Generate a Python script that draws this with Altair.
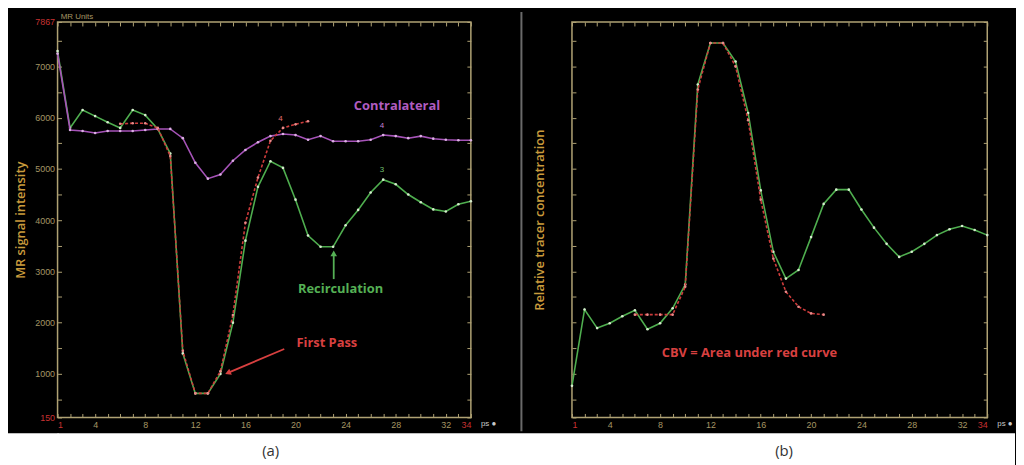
import altair as alt
import pandas as pd

# ---------------- data ----------------
t = list(range(1, 35))

a_green = [7300, 5800, 6150, 6030, 5910, 5800, 6150, 6050, 5780, 5300,
           1400, 620, 620, 1000, 2000, 3600, 4650, 5150, 5020, 4400,
           3700, 3480, 3480, 3900, 4200, 4540, 4790, 4700, 4500, 4350,
           4210, 4170, 4310, 4370]
a_purple = [7250, 5760, 5740, 5700, 5740, 5740, 5740, 5760, 5780, 5780,
            5600, 5120, 4810, 4890, 5160, 5370, 5520, 5640, 5680, 5660,
            5570, 5640, 5540, 5540, 5540, 5570, 5660, 5640, 5600, 5640,
            5590, 5570, 5560, 5560]
a_red_t = list(range(6, 22))
a_red = [5880, 5890, 5890, 5800, 5250, 1450, 620, 620, 1050, 2150,
         3950, 4830, 5550, 5800, 5870, 5930]

b_green = [767, 2257, 1894, 1987, 2126, 2241, 1871, 1987, 2280, 2743,
           6648, 7458, 7458, 7095, 6092, 4580, 3383, 2859, 3028, 3669,
           4317, 4595, 4595, 4209, 3854, 3538, 3283, 3383, 3538, 3708,
           3823, 3885, 3808, 3708]
b_red_t = list(range(6, 22))
b_red = [2156, 2156, 2156, 2156, 2700, 6550, 7458, 7458, 7000, 5950,
         4400, 3250, 2604, 2311, 2180, 2156]

Y_DOMAIN = [150, 7867]
X_DOMAIN = [1, 34]
x_ticks = list(range(1, 35))
x_label_vals = [1, 4, 8, 12, 16, 20, 24, 28, 32, 34]
y_ticks = [150] + list(range(500, 8000, 500)) + [7867]
y_label_vals = [150, 1000, 2000, 3000, 4000, 5000, 6000, 7000, 7867]

# annotations (panel a)
a_notes_txt = ["Contralateral", "Recirculation", "First Pass"]
a_notes_t = [28.1, 23.6, 22.5]
a_notes_v = [6223, 2664, 1600]
a_notes_col = ["#b05cc0", "#55b055", "#d84040"]

# small curve markers
a_mark_txt = ["4", "4", "3"]
a_mark_t = [18.8, 26.9, 26.9]
a_mark_v = [5900, 5760, 4900]
a_mark_col = ["#e07070", "#c080d0", "#70c070"]

# arrows: (t, v) -> (t2, v2), head at (t2, v2)
arrow_t = [23.05, 19.1]
arrow_v = [2850, 1485]
arrow_t2 = [23.05, 14.6]
arrow_v2 = [3350, 1020]
arrow_col = ["#55b055", "#d84040"]
arrow_angle = [0, 247]

# panel b annotation
b_note_txt = ["CBV = Area under red curve"]
b_note_t = [15.1]
b_note_v = [1407]

captions = ["(a)", "(b)"]
caption_x = [215, 733]

# ---------------- style ----------------
FRAME = "#b0a274"
LABEL = "#a59665"
RED_LBL = "#c83232"
TITLE = "#c99b3c"
GREEN = "#4fae4f"
GREEN_PT = "#d5eccd"
PURPLE = "#a653b8"
PURPLE_PT = "#dcb0e4"
RED = "#cf3c3c"
FONT = "Open Sans"

xs = alt.Scale(domain=X_DOMAIN, nice=False, zero=False)
ys = alt.Scale(domain=Y_DOMAIN, nice=False, zero=False)

x_lab_expr = "indexof(%s, datum.value) >= 0 ? datum.label : ''" % str(x_label_vals)
y_lab_expr = "indexof(%s, datum.value) >= 0 ? datum.label : ''" % str(y_label_vals)


def ax_bottom():
    return alt.Axis(orient="bottom", values=x_ticks, offset=-4, tickSize=4,
                    tickColor=FRAME, tickWidth=1, domain=False, grid=False,
                    labelExpr=x_lab_expr, labelOverlap=False,
                    labelColor=alt.condition("datum.value == 1 || datum.value == 34",
                                             alt.value(RED_LBL), alt.value(LABEL)),
                    labelFontSize=9, labelFont="Liberation Sans", labelPadding=3,
                    title=None)


def ax_top():
    return alt.Axis(orient="top", values=x_ticks, offset=-4, tickSize=4,
                    tickColor=FRAME, domain=False, grid=False, labels=False,
                    title=None)


def ax_left(title, labels=True, title_pad=7):
    kw = dict(orient="left", values=y_ticks, offset=-4, tickSize=4,
              tickColor=FRAME, domain=False, grid=False, title=title,
              titleColor=TITLE, titleFont=FONT, titleFontSize=13,
              titleFontWeight=600, titlePadding=title_pad)
    if labels:
        kw.update(labelExpr=y_lab_expr, format="d", labelOverlap=False,
                  labelColor=alt.condition("datum.value == 150 || datum.value == 7867",
                                           alt.value(RED_LBL), alt.value(LABEL)),
                  labelFontSize=9, labelFont="Liberation Sans", labelPadding=3)
    else:
        kw.update(labels=False)
    return alt.Axis(**kw)


def ax_right():
    return alt.Axis(orient="right", values=y_ticks, offset=-4, tickSize=4,
                    tickColor=FRAME, domain=False, grid=False, labels=False,
                    title=None)


def curve_layers(df, color, ptcolor, dash=None, axes=None):
    line_kw = dict(color=color, strokeWidth=1.6)
    if dash:
        line_kw["strokeDash"] = dash
    xa = axes[0] if axes else None
    ya = axes[1] if axes else None
    line = alt.Chart(df).mark_line(**line_kw).encode(
        x=alt.X("t:Q", scale=xs, axis=xa),
        y=alt.Y("v:Q", scale=ys, axis=ya),
    )
    pts = alt.Chart(df).mark_circle(color=ptcolor, size=7, opacity=1).encode(
        x=alt.X("t:Q", scale=xs, axis=None),
        y=alt.Y("v:Q", scale=ys, axis=None),
    )
    return [line, pts]


def frame_axes_layer(df):
    # invisible layer carrying the top/right tick axes
    return alt.Chart(df).mark_point(opacity=0).encode(
        x=alt.X("t:Q", scale=xs, axis=ax_top()),
        y=alt.Y("v:Q", scale=ys, axis=ax_right()),
    )


def small_text(df, baseline, dy=0):
    return alt.Chart(df).mark_text(font="Liberation Sans", fontSize=8, align="left",
                                   baseline=baseline, dy=dy).encode(
        x=alt.X("t:Q", scale=xs, axis=None), y=alt.Y("v:Q", scale=ys, axis=None),
        text="txt:N", color=alt.Color("c:N", scale=None))


VIEW = alt.ViewBackground(fill="black", stroke=FRAME, strokeWidth=1.5)

# ---------------- panel a ----------------
dfa_g = pd.DataFrame({"t": t, "v": a_green})
dfa_p = pd.DataFrame({"t": t, "v": a_purple})
dfa_r = pd.DataFrame({"t": a_red_t, "v": a_red})

a_layers = []
a_layers += curve_layers(dfa_g, GREEN, GREEN_PT,
                         axes=(ax_bottom(), ax_left("MR signal intensity")))
a_layers.append(frame_axes_layer(dfa_g))
a_layers += curve_layers(dfa_p, PURPLE, PURPLE_PT)
a_layers += curve_layers(dfa_r, RED, "#e88a8a", dash=[3, 2])

notes_a = pd.DataFrame({"txt": a_notes_txt, "t": a_notes_t, "v": a_notes_v, "c": a_notes_col})
a_layers.append(alt.Chart(notes_a).mark_text(font=FONT, fontSize=13, fontWeight="bold").encode(
    x=alt.X("t:Q", scale=xs, axis=None), y=alt.Y("v:Q", scale=ys, axis=None),
    text="txt:N", color=alt.Color("c:N", scale=None)))

marks_a = pd.DataFrame({"txt": a_mark_txt, "t": a_mark_t, "v": a_mark_v, "c": a_mark_col})
a_layers.append(alt.Chart(marks_a).mark_text(font="Liberation Sans", fontSize=8, baseline="bottom").encode(
    x=alt.X("t:Q", scale=xs, axis=None), y=alt.Y("v:Q", scale=ys, axis=None),
    text="txt:N", color=alt.Color("c:N", scale=None)))

arrows = pd.DataFrame({"t": arrow_t, "v": arrow_v, "t2": arrow_t2, "v2": arrow_v2,
                       "c": arrow_col, "ang": arrow_angle})
a_layers.append(alt.Chart(arrows).mark_rule(strokeWidth=1.8).encode(
    x=alt.X("t:Q", scale=xs, axis=None), y=alt.Y("v:Q", scale=ys, axis=None),
    x2="t2:Q", y2="v2:Q", color=alt.Color("c:N", scale=None)))
a_layers.append(alt.Chart(arrows).mark_point(shape="triangle-up", filled=True, size=45, opacity=1).encode(
    x=alt.X("t2:Q", scale=xs, axis=None), y=alt.Y("v2:Q", scale=ys, axis=None),
    angle=alt.Angle("ang:Q", scale=None), color=alt.Color("c:N", scale=None)))

units_a = pd.DataFrame({"txt": ["MR Units"], "t": [1.25], "v": [7867], "c": [LABEL]})
a_layers.append(small_text(units_a, "middle", dy=-5))
ps_a = pd.DataFrame({"txt": ["ps  \u25cf"], "t": [34.8], "v": [150], "c": ["#c8c8c8"]})
a_layers.append(small_text(ps_a, "top", dy=3))

panel_a = alt.layer(*a_layers).resolve_axis(x="independent", y="independent").properties(
    width=417, height=399, view=VIEW)

# ---------------- panel b ----------------
dfb_g = pd.DataFrame({"t": t, "v": b_green})
dfb_r = pd.DataFrame({"t": b_red_t, "v": b_red})

b_layers = []
b_layers += curve_layers(dfb_g, GREEN, GREEN_PT,
                         axes=(ax_bottom(), ax_left("Relative tracer concentration",
                                                    labels=False, title_pad=25)))
b_layers.append(frame_axes_layer(dfb_g))
b_layers += curve_layers(dfb_r, RED, "#e88a8a", dash=[3, 2])

notes_b = pd.DataFrame({"txt": b_note_txt, "t": b_note_t, "v": b_note_v})
b_layers.append(alt.Chart(notes_b).mark_text(font=FONT, fontSize=13, fontWeight="bold", color="#d84040").encode(
    x=alt.X("t:Q", scale=xs, axis=None), y=alt.Y("v:Q", scale=ys, axis=None), text="txt:N"))

ps_b = pd.DataFrame({"txt": ["ps  \u25cf"], "t": [34.8], "v": [150], "c": ["#c8c8c8"]})
b_layers.append(small_text(ps_b, "top", dy=3))

# separator line between the two panels
b_layers.append(alt.Chart(pd.DataFrame({"k": [0]})).mark_rule(color="#6a6a6a", strokeWidth=2).encode(
    x=alt.value(-51), y=alt.value(-10), y2=alt.value(413)))

panel_b = alt.layer(*b_layers).resolve_axis(x="independent", y="independent").properties(
    width=419, height=399, view=VIEW)

# ---------------- captions ----------------
cap = pd.DataFrame({"txt": captions, "x": caption_x})
cap_text = alt.Chart(cap).mark_text(font=FONT, fontSize=15, color="#333333", baseline="middle").encode(
    x=alt.X("x:Q", scale=alt.Scale(domain=[0, 966], nice=False, zero=False), axis=None),
    y=alt.value(18), text="txt:N")
cap_left = alt.Chart(pd.DataFrame({"k": [0]})).mark_rect(color="white").encode(
    x=alt.value(-50), x2=alt.value(1), y=alt.value(0), y2=alt.value(45))
cap_chart = alt.layer(cap_left, cap_text).properties(
    width=966, height=45,
    view=alt.ViewBackground(fill="white", stroke="white", strokeWidth=0))

top = alt.hconcat(panel_a, panel_b, spacing=20)
chart = alt.vconcat(top, cap_chart, spacing=0).properties(
    background="black", padding=0
).configure_view(strokeWidth=1.5)

chart.save("out.html", embed_options={"renderer": "svg", "actions": False})
